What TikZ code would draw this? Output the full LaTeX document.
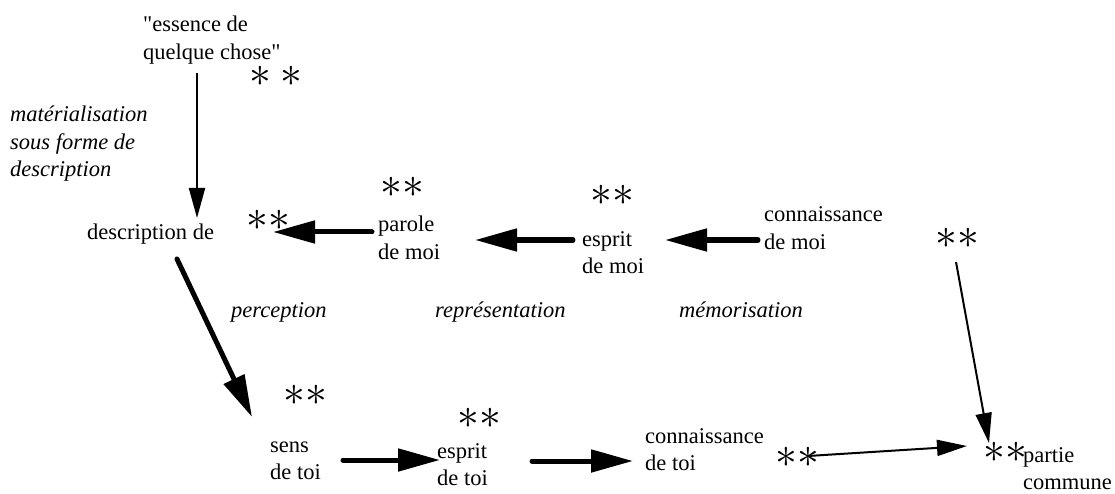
\documentclass[tikz,border=0pt]{standalone}
\usepackage{graphicx}
\usepackage{fontspec}
\setmainfont{Liberation Serif}
\usetikzlibrary{arrows.meta}
\newcommand{\ml}[1]{\begin{tabular}[t]{@{}l@{}}#1\end{tabular}}
\newcommand{\twoast}{\scalebox{1.75}{$\ast\ast$}}
\tikzset{
  lbl/.style={inner sep=0pt, anchor=base west, font=\fontsize{22.5}{27.5}\selectfont},
  itl/.style={inner sep=0pt, anchor=base west, font=\fontsize{22.5}{27.5}\selectfont\itshape},
  stars/.style={inner sep=0pt, font=\fontsize{24.88}{25}\selectfont},
  thickarr/.style={line width=5pt, line cap=round, -{Triangle[length=42pt,width=22pt]}},
  thinarr/.style={line width=2pt, -{Triangle[length=30pt,width=16pt]}},
}
\begin{document}
\begin{tikzpicture}[x=1pt,y=-1pt]
\useasboundingbox (0,0) rectangle (1115,494);
% text nodes
\node[lbl] (essence) at (143,32) {\ml{\textquotedbl essence de\\quelque chose\textquotedbl}};
\node[itl] (mat) at (10,122) {\ml{matérialisation\\sous forme de\\description}};
\node[lbl] (desc) at (87,240) {\ml{description de}};
\node[lbl] (parole) at (378,232) {\ml{parole\\de moi}};
\node[lbl] (esprm) at (582,246) {\ml{esprit\\de moi}};
\node[lbl] (connm) at (764,222) {\ml{connaissance\\de moi}};
\node[itl] (perc) at (231,317) {\ml{perception}};
\node[itl] (repr) at (435,317) {\ml{représentation}};
\node[itl] (memo) at (679,317) {\ml{mémorisation}};
\node[lbl] (sens) at (270,452) {\ml{sens\\de toi}};
\node[lbl] (esprt) at (437,458) {\ml{esprit\\de toi}};
\node[lbl] (connt) at (645,443) {\ml{connaissance\\de toi}};
\node[lbl] (partie) at (1023,462) {\ml{partie\\commune}};
% asterisks
\node[stars] (s0) at (276,76) {\scalebox{1.75}{$\ast$\hspace{5pt}$\ast$}};
\node[stars] (s1) at (268,220) {\twoast};
\node[stars] (s2) at (402,187) {\twoast};
\node[stars] (s3) at (612,195) {\twoast};
\node[stars] (s4) at (957,238) {\twoast};
\node[stars] (s5) at (305,395) {\twoast};
\node[stars] (s6) at (479,418) {\twoast};
\node[stars] (s7) at (797,457) {\twoast};
\node[stars] (s8) at (1005,452) {\twoast};
% connectors
\draw[thinarr] ([shift={(54pt,-41pt)}]essence.base west) -- ([shift={(110pt,22pt)}]desc.base west);
\draw[thickarr] ([shift={(90pt,-19pt)}]desc.base west) -- ([shift={(-18pt,35pt)}]sens.base west);
\draw[thickarr] ([xshift=-6pt]parole.base west) -- ([shift={(5pt,-12pt)}]s1.center);
\draw[thickarr] ([shift={(-9pt,6pt)}]esprm.base west) -- ([shift={(97pt,-8pt)}]parole.base west);
\draw[thickarr] ([shift={(-6pt,-18pt)}]connm.base west) -- ([shift={(83pt,6pt)}]esprm.base west);
\draw[thickarr] ([shift={(73pt,-8pt)}]sens.base west) -- ([shift={(3pt,-2pt)}]esprt.base west);
\draw[thickarr] ([shift={(95pt,-3pt)}]esprt.base west) -- ([shift={(-12pt,-18pt)}]connt.base west);
\draw[thinarr] ([shift={(11pt,1pt)}]s7.center) -- ([shift={(-38pt,6pt)}]s8.center);
\draw[thinarr] ([shift={(-1pt,-24pt)}]s4.center) -- ([shift={(-16pt,9pt)}]s8.center);
\end{tikzpicture}
\end{document}
